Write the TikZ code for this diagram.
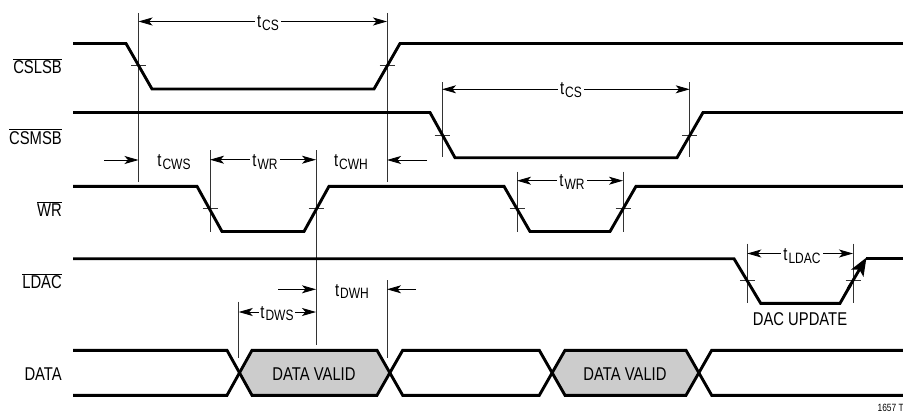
\documentclass[tikz,border=0pt]{standalone}
\usepackage{fontspec}
\setmainfont[FakeStretch=0.8]{Liberation Sans}
\usetikzlibrary{arrows.meta}
\newcommand{\tsub}[1]{\fontsize{18.5}{19}\selectfont t\hspace{1pt}\raisebox{-2.8pt}{\fontsize{15}{16}\selectfont #1}}
\newcommand{\barred}[1]{$\overline{\hbox{#1}}$}
\tikzset{
  sig/.style={line width=2.9pt,line join=miter,line cap=butt},
  guide/.style={line width=0.9pt,black!80},
  tick/.style={line width=0.9pt,black!80},
  dim/.style={line width=0.85pt,{Stealth[length=14pt,width=8pt,inset=3.5pt]}-{Stealth[length=14pt,width=8pt,inset=3.5pt]}},
  dimone/.style={line width=0.85pt,-{Stealth[length=14pt,width=8pt,inset=3.5pt]}},
  siglabel/.style={anchor=base east,inner sep=0pt,font=\fontsize{18.5}{19}\selectfont},
  textlabel/.style={anchor=base,inner sep=0pt,font=\fontsize{18.5}{19}\selectfont},
  timelabel/.style={anchor=base,inner sep=2.5pt,fill=white},
}
\begin{document}
\begin{tikzpicture}[x=1pt,y=-1pt]
\useasboundingbox (0,0) rectangle (903,412);
% data fill
\fill[black!20] (239,373) -- (252,350.5) -- (377,350.5) -- (389,373) -- (377,395.5) -- (252,395.5) -- cycle;
\fill[black!20] (552,373) -- (565,350.5) -- (686,350.5) -- (699,373) -- (686,395.5) -- (565,395.5) -- cycle;
% guides: named end points
\coordinate (g1a) at (138.5,13);  \coordinate (g1b) at (138.5,182);
\coordinate (g2a) at (387,13);    \coordinate (g2b) at (387,182);
\coordinate (g3a) at (442,82.5);  \coordinate (g3b) at (442,157);
\coordinate (g4a) at (689.7,82.5);\coordinate (g4b) at (689.7,157);
\coordinate (g5a) at (210,150);   \coordinate (g5b) at (210,232);
\coordinate (g6a) at (316,150);   \coordinate (g6b) at (316,344.5);
\coordinate (g7a) at (517,171.5); \coordinate (g7b) at (517,232);
\coordinate (g8a) at (623,171.5); \coordinate (g8b) at (623,232);
\coordinate (g9a) at (747.3,243.5);\coordinate (g9b) at (747.3,303);
\coordinate (g10a) at (853,243.5);\coordinate (g10b) at (853,303);
\coordinate (g11a) at (238.7,301.5);\coordinate (g11b) at (238.7,357.5);
\coordinate (g12a) at (387,280);  \coordinate (g12b) at (387,357.5);
\foreach \n in {1,...,12} \draw[guide] (g\n a) -- (g\n b);
% ticks
\foreach \x/\y in {138.5/65.5,387/65.5,442/135.5,689.7/135.5,210/208.5,316/208.5,517/208.5,623/208.5,747.3/280,853/280}
  \draw[tick] (\x-7.5,\y) -- (\x+7.5,\y);
% signals
\draw[sig] (73,43.5) -- (126,43.5) -- (152,89) -- (374,89) -- (400,43.5) -- (903,43.5);
\draw[sig] (73,112.5) -- (430,112.5) -- (455,157.7) -- (677,157.7) -- (703,112.5) -- (903,112.5);
\draw[sig] (73,186.3) -- (197,186.3) -- (222,231.5) -- (304,231.5) -- (329,186.3) -- (504,186.3) -- (530,231.5) -- (610,231.5) -- (636,186.3) -- (903,186.3);
\draw[sig] (73,258.7) -- (734,258.7) -- (760.7,303.3) -- (840,303.3) -- (851,284);
\draw[sig,-{Stealth[length=18pt,width=14pt,inset=4pt]}] (848,289) -- (866.5,257.5);
\draw[sig] (866,258.7) -- (903,258.7);
\draw[sig] (73,350.3) -- (227,350.3) -- (252,395.3) -- (377,395.3) -- (402.7,350.3) -- (539.3,350.3) -- (565,395.3) -- (686,395.3) -- (711.7,350.3) -- (903,350.3);
\draw[sig] (73,395.3) -- (227,395.3) -- (252,350.3) -- (377,350.3) -- (402.7,395.3) -- (539.3,395.3) -- (565,350.3) -- (686,350.3) -- (711.7,395.3) -- (903,395.3);
% dimension arrows
\coordinate (c1) at (138.5,21.5); \coordinate (c2) at (387,21.5);
\draw[dim] (c1) -- (c2);
\node[timelabel] (tcsa) at (268,28) {\tsub{CS}};
\coordinate (c3) at (442,89.3); \coordinate (c4) at (689.7,89.3);
\draw[dim] (c3) -- (c4);
\node[timelabel] (tcsb) at (571,95) {\tsub{CS}};
\coordinate (c5) at (210,159.7); \coordinate (c6) at (316,159.7);
\draw[dim] (c5) -- (c6);
\node[timelabel] (twra) at (265,166.5) {\tsub{WR}};
\coordinate (c7) at (517,180.7); \coordinate (c8) at (623,180.7);
\draw[dim] (c7) -- (c8);
\node[timelabel] (twrb) at (572,186.5) {\tsub{WR}};
\coordinate (c9) at (747.3,253.5); \coordinate (c10) at (853,253.5);
\draw[dim] (c9) -- (c10);
\node[timelabel] (tldac) at (802,260.5) {\tsub{LDAC}};
\coordinate (c11) at (238.7,312); \coordinate (c12) at (316,312);
\draw[dim] (c11) -- (c12);
\node[timelabel,inner sep=1pt] (tdws) at (277,318) {\tsub{DWS}};
\coordinate (s1) at (104,160); \coordinate (s2) at (138.5,160);
\draw[dimone] (s1) -- (s2);
\coordinate (s3) at (427,160); \coordinate (s4) at (387,160);
\draw[dimone] (s3) -- (s4);
\coordinate (s5) at (278,289.3); \coordinate (s6) at (316,289.3);
\draw[dimone] (s5) -- (s6);
\coordinate (s7) at (416,289.3); \coordinate (s8) at (387,289.3);
\draw[dimone] (s7) -- (s8);
\node[timelabel,fill=none] (tcws) at (174,166.5) {\tsub{CWS}};
\node[timelabel,fill=none] (tcwh) at (351,166.5) {\tsub{CWH}};
\node[timelabel,fill=none] (tdwh) at (352,296) {\tsub{DWH}};
% signal labels
\node[siglabel] (lcslsb) at (62,74) {\barred{CSLSB}};
\node[siglabel] (lcsmsb) at (62,144) {\barred{CSMSB}};
\node[siglabel] (lwr) at (62,216) {\barred{WR}};
\node[siglabel] (lldac) at (62,288.7) {\barred{LDAC}};
\node[siglabel] (ldata) at (62,380.7) {DATA};
\node[textlabel] (dva) at (314,380) {DATA VALID};
\node[textlabel] (dvb) at (625,380) {DATA VALID};
\node[textlabel] (dacu) at (800,325) {DAC UPDATE};
\node[anchor=base east,inner sep=0pt,font=\fontsize{10.5}{11}\selectfont] (fig) at (904,411) {1657 T};
\end{tikzpicture}
\end{document}
